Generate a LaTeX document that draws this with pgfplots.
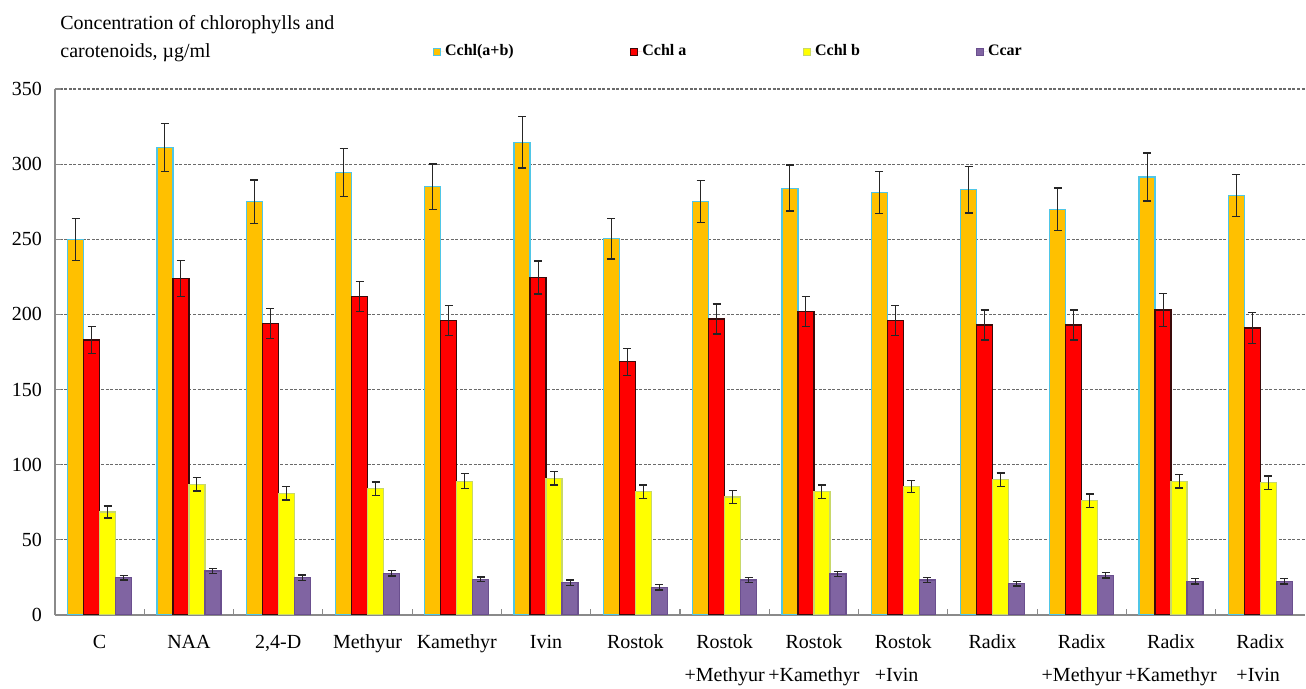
\documentclass[border=0pt]{standalone}
\usepackage{fontspec}
\setmainfont{Liberation Serif}
\usepackage{pgfplots}
\pgfplotsset{compat=1.18}
\usepackage{pgfplotstable}
\definecolor{cOr}{HTML}{FFC000}
\definecolor{cOrE}{HTML}{4FC6E6}
\definecolor{cRed}{HTML}{FF0000}
\definecolor{cRedE}{HTML}{3A0A0A}
\definecolor{cYel}{HTML}{FFFF00}
\definecolor{cYelE}{HTML}{C8D86A}
\definecolor{cPur}{HTML}{8064A2}
\definecolor{cPurE}{HTML}{6A4F8E}
\definecolor{cGrid}{HTML}{6A6A6A}
\definecolor{cAxis}{HTML}{8A8A8A}
\newcommand{\lc}[2]{\begin{tabular}{@{}c@{}}#1\\[4.5pt]#2\end{tabular}}
\newcommand{\lL}[2]{\begin{tabular}{@{}l@{}}#1\\[4.5pt]#2\end{tabular}}
\newcommand{\lo}[1]{\begin{tabular}{@{}c@{}}#1\end{tabular}}
\pgfplotstableread{
x tot etot a ea b eb car ecar
0 250 14 183 9 68.5 4 24.9 1.5
1 311 16 224 12 87 4.5 29.3 1.8
2 275 14.5 194 10 81 4.5 24.9 1.8
3 294.5 16 212 10 84 4.5 27.8 1.8
4 285 15 196 10 89 5 23.8 1.6
5 314.5 17 224.5 11 91 4.5 21.6 1.8
6 250.5 13.5 168.5 9 82 4.5 18.4 1.8
7 275 14 197 10 78.5 4.2 23.3 1.8
8 284 15.3 202 10 82 4.4 27.3 1.8
9 281 14 196 10 85.5 4 23.3 1.8
10 283 15.5 193 10 90 4.4 20.7 1.5
11 270 14 193 10 76 4.4 26.4 1.8
12 291.5 16 203 11 89 4.5 22.4 1.8
13 279 14 191 10.4 88 4.4 22.4 1.8
}\datatab
\begin{document}
\begin{tikzpicture}
\useasboundingbox (-27.5pt,-37pt) rectangle (625.5pt,307.5pt);
\begin{axis}[
  name=ax, at={(0,0)}, anchor=south west,
  scale only axis, width=625pt, height=263pt,
  xmin=-0.5, xmax=13.5, ymin=0, ymax=350,
  ybar=0pt, bar width=8pt,
  axis x line*=bottom, axis y line*=left,
  axis line style={cAxis, line width=1pt, -},
  ytick={0,50,...,350},
  ymajorgrids,
  grid style={cGrid, dash pattern=on 1.5pt off 0.8pt, line width=0.6pt},
  xtick={0,...,13},
  minor xtick={0.5,1.5,...,12.5},
  tick align=inside,
  major tick length=3pt, minor tick length=3pt,
  major x tick style={draw=none},
  tick style={cAxis, line width=0.6pt},
  xticklabels={\lo{C},\lo{NAA},\lo{2,4-D},\lo{Methyur},\lo{Kamethyr},\lo{Ivin},\lo{Rostok},
    \lc{Rostok}{+Methyur},\lc{Rostok}{+Kamethyr},\lL{Rostok}{+Ivin},\lo{Radix},
    \lc{Radix}{+Methyur},\lc{Radix}{+Kamethyr},\lL{Radix}{+Ivin}},
  ticklabel style={font=\fontsize{10}{12}\selectfont},
  xticklabel style={yshift=-5pt},
  yticklabel style={xshift=-3pt},
  /pgf/number format/assume math mode=true,
  error bars/y dir=both, error bars/y explicit,
  error bars/error bar style={draw=black!85, line width=0.5pt},
  error bars/error mark options={rotate=90, draw=black!85, mark size=2pt, line width=0.7pt},
  legend style={draw=none, fill=none, at={(0.30208,1.0709)}, anchor=west,
    legend columns=4, inner sep=0pt, outer sep=0pt,
    font=\fontsize{8}{9.6}\selectfont\bfseries,
    /tikz/every even column/.style={column sep=0pt},
    nodes={inner sep=0pt}},
  legend image code/.code={\draw[#1, line width=0.5pt] (0pt,-1.75pt) rectangle (3.5pt,1.75pt); \path[draw=none] (0pt,0pt) -- (6pt,0pt);},
]
\addplot[fill=cOr, draw=cOrE, line width=0.6pt] table[x=x,y=tot,y error=etot]{\datatab};
\addplot[fill=cRed, draw=cRedE, line width=0.6pt] table[x=x,y=a,y error=ea]{\datatab};
\addplot[fill=cYel, draw=cYelE, line width=0.6pt] table[x=x,y=b,y error=eb]{\datatab};
\addplot[fill=cPur, draw=cPurE, line width=0.6pt] table[x=x,y=car,y error=ecar]{\datatab};
\legend{\makebox[92.4pt][l]{Cchl(a+b)},\makebox[80.1pt][l]{Cchl a},\makebox[80.2pt][l]{Cchl b},Ccar}
\end{axis}
\node[anchor=base west, font=\fontsize{10}{12}\selectfont, inner sep=0pt] at ([xshift=2.5pt,yshift=29.65pt]ax.north west) {Concentration of chlorophylls and};
\node[anchor=base west, font=\fontsize{10}{12}\selectfont, inner sep=0pt] at ([xshift=2.5pt,yshift=15.65pt]ax.north west) {carotenoids, µg/ml};
\end{tikzpicture}
\end{document}
